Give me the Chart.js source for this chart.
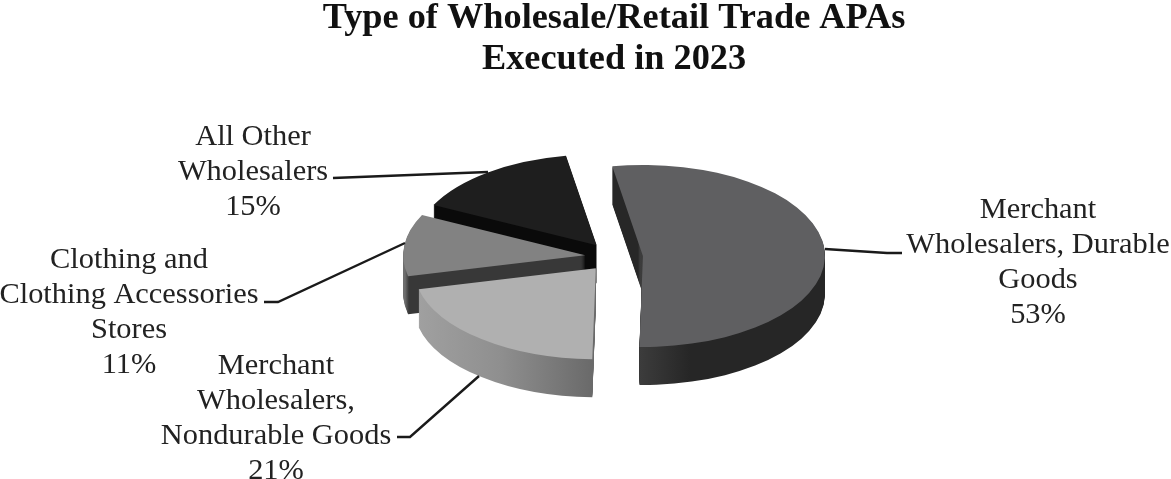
<!DOCTYPE html>
<html>
<head>
<meta charset="utf-8">
<style>
  html, body { margin: 0; padding: 0; background: #fff; }
  canvas { display: block; }
</style>
<script src="https://cdn.jsdelivr.net/npm/chart.js@4"></script>
</head>
<body>
<canvas id="myChart" width="1171" height="479"></canvas>
<script>
const titleLines = ["Type of Wholesale/Retail Trade APAs", "Executed in 2023"]
const categories = [
  "Merchant Wholesalers, Durable Goods",
  "Merchant Wholesalers, Nondurable Goods",
  "Clothing and Clothing Accessories Stores",
  "All Other Wholesalers"
]
const shares = [53, 21, 11, 15]
const topColors = ["#5f5f61", "#b0b0b0", "#828282", "#1e1e1e"]

// outside labels, one entry per slice, same order as categories
const labelLines = [
  ["Merchant", "Wholesalers, Durable", "Goods", "53%"],
  ["Merchant", "Wholesalers,", "Nondurable Goods", "21%"],
  ["Clothing and", "Clothing Accessories", "Stores", "11%"],
  ["All Other", "Wholesalers", "15%"]
]
const labelCenterX = [1038, 276, 129, 253]
const labelFirstY = [210, 366, 260, 137]
const leaderLines = [
  [[825, 249], [887, 253], [902, 253]],
  [[397, 437], [410, 437], [479, 376]],
  [[264, 302], [278, 302], [405, 243]],
  [[333, 178], [488, 172]]
]

// side walls: x position on screen -> grey
const sideStops = [
  [[612, "#272727"], [638, "#272727"], [640, "#3c3c3c"], [690, "#262626"], [825, "#262626"]],
  [[418, "#a0a0a0"], [500, "#8f8f8f"], [592, "#6a6a6a"]],
  [[405, "#6e6e6e"], [409, "#383838"], [585, "#383838"]],
  [[435, "#0a0a0a"], [590, "#0a0a0a"], [597, "#0a0a0a"]]
]

const drawOrder = [3, 2, 1, 0]
const TILT = 0.5
const DEPTH = 38
const EXPLODE = 29
const CENTER_Y = 257

function side_gradient(ctx, stops, shiftX){
  const first = stops[0][0]
  const last = stops[stops.length - 1][0]
  const grad = ctx.createLinearGradient(first - shiftX, 0, last - shiftX, 0)
  stops.forEach(s => grad.addColorStop((s[0] - first) / (last - first), s[1]))
  return grad
}

function draw_slice(ctx, arc, index){
  const mid = (arc.startAngle + arc.endAngle) / 2
  const dx = Math.cos(mid) * EXPLODE
  const dy = Math.sin(mid) * EXPLODE * TILT
  const saved = arc.options
  const wall = side_gradient(ctx, sideStops[index], dx)

  for (let d = DEPTH; d >= 0; d--){
    ctx.save()
    ctx.translate(dx, CENTER_Y + dy + d)
    ctx.scale(1, TILT)
    ctx.translate(0, -arc.y)
    arc.options = Object.assign({}, saved, { backgroundColor: d == 0 ? topColors[index] : wall })
    arc.draw(ctx)
    ctx.restore()
  }
  arc.options = saved
}

// the library has no 3D pie, so squash and stack its own arc elements
const tiltedPie = {
  id: "tiltedPie",
  beforeDatasetsDraw(chart){
    const arcs = chart.getDatasetMeta(0).data
    drawOrder.forEach(i => draw_slice(chart.ctx, arcs[i], i))
    return false
  },
  afterDraw(chart){
    const ctx = chart.ctx
    ctx.save()
    ctx.strokeStyle = "#1a1a1a"
    ctx.lineWidth = 2.4
    leaderLines.forEach(pts => {
      ctx.beginPath()
      pts.forEach((p, i) => i == 0 ? ctx.moveTo(p[0], p[1]) : ctx.lineTo(p[0], p[1]))
      ctx.stroke()
    })
    ctx.fillStyle = "#222222"
    ctx.font = '30.4px "Liberation Serif"'
    ctx.textAlign = "center"
    ctx.textBaseline = "middle"
    labelLines.forEach((lines, i) => {
      lines.forEach((text, n) => ctx.fillText(text, labelCenterX[i], labelFirstY[i] + n * 35))
    })
    ctx.restore()
  }
}

new Chart(document.getElementById("myChart").getContext("2d"), {
  type: "pie",
  plugins: [tiltedPie],
  data: {
    labels: categories,
    datasets: [{
      data: shares,
      backgroundColor: topColors,
      borderWidth: 0,
      clip: false
    }]
  },
  options: {
    responsive: false,
    animation: false,
    rotation: -9.7,
    radius: 182,
    layout: { padding: { left: 57, top: 0 } },
    plugins: {
      legend: { display: false },
      tooltip: { enabled: false },
      title: {
        display: true,
        text: titleLines,
        color: "#111111",
        font: { family: "Liberation Serif", size: 36.3, weight: "bold", lineHeight: 1.13 },
        padding: { top: -2, bottom: 10 }
      }
    }
  }
})
</script>
</body>
</html>
